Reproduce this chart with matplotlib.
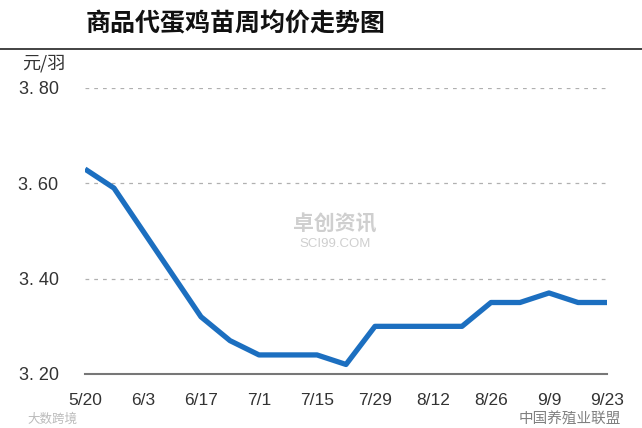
import matplotlib
matplotlib.use("Agg")
import matplotlib.pyplot as plt

plt.rcParams['font.family'] = ['Noto Sans CJK SC', 'DejaVu Sans']

dates = ["5/20", "5/27", "6/3", "6/10", "6/17", "6/24", "7/1", "7/8", "7/15", "7/22",
         "7/29", "8/5", "8/12", "8/19", "8/26", "9/2", "9/9", "9/16", "9/23"]
prices = [3.63, 3.59, 3.50, 3.41, 3.32, 3.27, 3.24, 3.24, 3.24, 3.22,
          3.30, 3.30, 3.30, 3.30, 3.35, 3.35, 3.37, 3.35, 3.35]
yticks = [3.20, 3.40, 3.60, 3.80]
ytick_labels = ["3. 20", "3. 40", "3. 60", "3. 80"]
title = "商品代蛋鸡苗周均价走势图"
unit = "元/羽"

fig = plt.figure(figsize=(6.42, 4.28), dpi=100)
fig.patch.set_facecolor("white")
ax = fig.add_axes([85/642, 1-374/428, (607-85)/642, (374-88)/428])

x = list(range(len(dates)))
ax.plot(x, prices, color="#1c6fc0", linewidth=3.8, solid_joinstyle="round",
        solid_capstyle="butt", zorder=3)

ax.set_xlim(0, len(dates)-1)
ax.set_ylim(3.20, 3.80)
ax.set_yticks(yticks)
ax.set_yticklabels(ytick_labels, fontsize=13, color="#333333", family="Liberation Sans")
ax.set_xticks(x[::2])
ax.set_xticklabels(dates[::2], fontsize=12.5, color="#333333", family="Liberation Sans")
ax.tick_params(axis="y", length=0, pad=19)
ax.tick_params(axis="x", length=0, pad=14)

for y in yticks[1:]:
    ax.axhline(y, color="#b0b0b0", linestyle=(0, (3, 4)), linewidth=0.9, zorder=1)

for s in ["top", "right", "left"]:
    ax.spines[s].set_visible(False)
ax.spines["bottom"].set_color("#777777")
ax.spines["bottom"].set_linewidth(1.5)

# title and rule
fig.text(236/642, 1-24/428, title, fontsize=18, fontweight="bold", ha="center",
         va="center", color="#111111")
fig.add_artist(plt.Line2D([0, 1], [1-49/428, 1-49/428], color="#222222", linewidth=1.2))
fig.text(22/642, 1-63/428, unit, fontsize=13, ha="left", va="center", color="#333333")

# watermarks
fig.text(335/642, 1-224/428, "卓创资讯", fontsize=15, ha="center", va="center",
         color="#cfcfcf", fontweight="bold")
fig.text(335/642, 1-244/428, "SCI99.COM", fontsize=9.5, ha="center", va="center",
         color="#cfcfcf", family="Liberation Sans")
fig.text(570/642, 1-419/428, "中国养殖业联盟", fontsize=10.5, ha="center", va="center",
         color="#555555", alpha=0.75)
fig.text(52/642, 1-419/428, "大数跨境", fontsize=9, ha="center", va="center",
         color="#bbbbbb")

fig.savefig("out.png", dpi=100, facecolor="white")
